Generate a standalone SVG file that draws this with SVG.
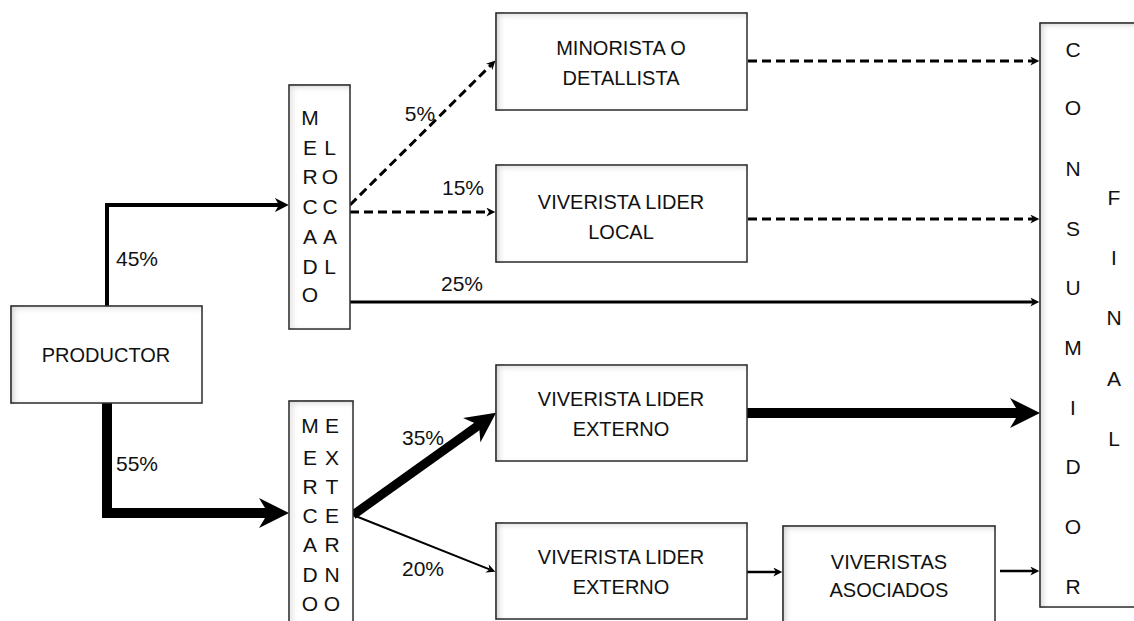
<svg xmlns="http://www.w3.org/2000/svg" width="1134" height="621" viewBox="0 0 1134 621">
<style>
.box{fill:#fff;stroke:#333;stroke-width:1.5;filter:url(#inner)}
.t{font-family:"Liberation Sans",Arial,sans-serif;font-size:20px;fill:#111;text-anchor:middle}
.v{font-family:"Liberation Sans",Arial,sans-serif;font-size:21px;fill:#111;text-anchor:middle}
.p{font-family:"Liberation Sans",Arial,sans-serif;font-size:21px;fill:#111;text-anchor:middle}
.ln{fill:none;stroke:#000}
.dash{stroke-dasharray:9 5}
</style>
<defs>
<filter id="inner" x="-5%" y="-5%" width="110%" height="110%">
<feComponentTransfer in="SourceAlpha"><feFuncA type="table" tableValues="1 0"/></feComponentTransfer>
<feGaussianBlur stdDeviation="3"/>
<feOffset dx="3" dy="2" result="ob"/>
<feFlood flood-color="#000" flood-opacity="0.45"/>
<feComposite in2="ob" operator="in"/>
<feComposite in2="SourceAlpha" operator="in" result="sh"/>
<feMerge><feMergeNode in="SourceGraphic"/><feMergeNode in="sh"/></feMerge>
</filter>
<marker id="aS" viewBox="0 0 10 10" refX="3" refY="5" markerWidth="10" markerHeight="9" markerUnits="userSpaceOnUse" orient="auto"><path d="M0,0 L10,5 L0,10 L3,5 z" fill="#000"/></marker>
<marker id="aM" viewBox="0 0 10 10" refX="3" refY="5" markerWidth="14" markerHeight="14" markerUnits="userSpaceOnUse" orient="auto"><path d="M0,0 L10,5 L0,10 L3,5 z" fill="#000"/></marker>
<marker id="aL" viewBox="0 0 10 10" refX="3" refY="5" markerWidth="30" markerHeight="30" markerUnits="userSpaceOnUse" orient="auto"><path d="M0,0 L10,5 L0,10 L3,5 z" fill="#000"/></marker>
</defs>

<g id="connectors">
<path class="ln" d="M107,306 V205 H279" stroke-width="4" marker-end="url(#aM)"/>
<path class="ln" d="M107,403 V513 H268" stroke-width="10" marker-end="url(#aL)"/>
<path class="ln dash" d="M350,205 L491,65" stroke-width="3" marker-end="url(#aS)"/>
<path class="ln dash" d="M350,212 H489" stroke-width="3" marker-end="url(#aS)"/>
<path class="ln" d="M350,302 H1033" stroke-width="3" marker-end="url(#aS)"/>
<path class="ln dash" d="M748,61 H1033" stroke-width="3" marker-end="url(#aS)"/>
<path class="ln dash" d="M748,219 H1033" stroke-width="3" marker-end="url(#aS)"/>
<path class="ln" d="M353,515 L479,425" stroke-width="9" marker-end="url(#aL)"/>
<path class="ln" d="M353,515 L489.5,569.4" stroke-width="2" marker-end="url(#aS)"/>
<path class="ln" d="M747,413 H1019" stroke-width="10" marker-end="url(#aL)"/>
<path class="ln" d="M747,572 H776" stroke-width="2.5" marker-end="url(#aS)"/>
<path class="ln" d="M1000,571 H1033" stroke-width="2.5" marker-end="url(#aS)"/>
<text class="p" x="137" y="266">45%</text>
<text class="p" x="137" y="471">55%</text>
<text class="p" x="420" y="121">5%</text>
<text class="p" x="463" y="195">15%</text>
<text class="p" x="462" y="291">25%</text>
<text class="p" x="423" y="445">35%</text>
<text class="p" x="423" y="576">20%</text>
</g>

<g id="productor">
<rect class="box" x="11" y="306" width="191" height="97"/>
<text class="t" x="106" y="362">PRODUCTOR</text>
</g>

<g id="mercado-local">
<rect class="box" x="289" y="85" width="61" height="244"/>
<g class="v">
<text x="310" y="125">M</text>
<text x="310" y="155">E</text><text x="330" y="155">L</text>
<text x="310" y="184">R</text><text x="330" y="184">O</text>
<text x="310" y="214">C</text><text x="330" y="214">C</text>
<text x="310" y="244">A</text><text x="330" y="244">A</text>
<text x="310" y="274">D</text><text x="330" y="274">L</text>
<text x="310" y="302">O</text>
</g>
</g>

<g id="mercado-externo">
<rect class="box" x="289" y="401" width="64" height="240"/>
<g class="v">
<text x="310" y="433">M</text><text x="332" y="433">E</text>
<text x="310" y="465">E</text><text x="332" y="465">X</text>
<text x="310" y="494">R</text><text x="332" y="494">T</text>
<text x="310" y="523">C</text><text x="332" y="523">E</text>
<text x="310" y="552">A</text><text x="332" y="552">R</text>
<text x="310" y="582">D</text><text x="332" y="582">N</text>
<text x="310" y="611">O</text><text x="332" y="611">O</text>
</g>
</g>

<g id="minorista">
<rect class="box" x="496" y="13" width="251" height="97"/>
<text class="t" x="621" y="55">MINORISTA O</text>
<text class="t" x="621" y="85">DETALLISTA</text>
</g>

<g id="viverista-local">
<rect class="box" x="496" y="165" width="251" height="97"/>
<text class="t" x="621" y="209">VIVERISTA LIDER</text>
<text class="t" x="621" y="239">LOCAL</text>
</g>

<g id="viverista-externo-1">
<rect class="box" x="496" y="365" width="251" height="96"/>
<text class="t" x="621" y="406">VIVERISTA LIDER</text>
<text class="t" x="621" y="436">EXTERNO</text>
</g>

<g id="viverista-externo-2">
<rect class="box" x="496" y="523" width="251" height="96"/>
<text class="t" x="621" y="564">VIVERISTA LIDER</text>
<text class="t" x="621" y="594">EXTERNO</text>
</g>

<g id="viveristas-asociados">
<rect class="box" x="783" y="526" width="212" height="110"/>
<text class="t" x="889" y="569">VIVERISTAS</text>
<text class="t" x="889" y="597">ASOCIADOS</text>
</g>

<g id="consumidor-final">
<rect class="box" x="1040" y="23" width="110" height="584"/>
<g class="v">
<text x="1073" y="57">C</text>
<text x="1073" y="115">O</text>
<text x="1073" y="176">N</text>
<text x="1073" y="236">S</text>
<text x="1073" y="295">U</text>
<text x="1073" y="355">M</text>
<text x="1073" y="415">I</text>
<text x="1073" y="474">D</text>
<text x="1073" y="534">O</text>
<text x="1073" y="594">R</text>
<text x="1114" y="205">F</text>
<text x="1114" y="265">I</text>
<text x="1114" y="325">N</text>
<text x="1114" y="386">A</text>
<text x="1114" y="446">L</text>
</g>
</g>
</svg>
